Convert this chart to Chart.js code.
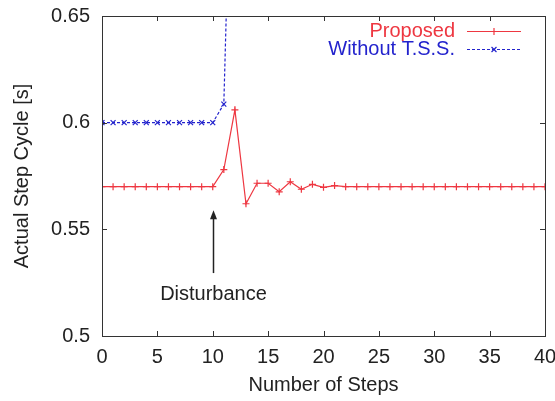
<!DOCTYPE html>
<html>
<head>
<meta charset="utf-8">
<script src="https://cdn.jsdelivr.net/npm/chart.js@4.4.1/dist/chart.umd.min.js"></script>
<style>
  html, body { margin: 0; padding: 0; background: #fff; }
  #wrap { width: 555px; height: 401px; }
</style>
</head>
<body>
<div id="wrap"><canvas id="stepChart" width="555" height="401"></canvas></div>
<script>
// data
const steps = [0, 1, 2, 3, 4, 5, 6, 7, 8, 9, 10, 11, 12, 13, 14, 15, 16, 17, 18, 19, 20,
               21, 22, 23, 24, 25, 26, 27, 28, 29, 30, 31, 32, 33, 34, 35, 36, 37, 38, 39, 40];
const proposed = [0.57, 0.57, 0.57, 0.57, 0.57, 0.57, 0.57, 0.57, 0.57, 0.57, 0.57,
                  0.578, 0.606, 0.562, 0.5716, 0.5716, 0.5676, 0.5723, 0.5688, 0.5711, 0.5697,
                  0.5705, 0.57, 0.57, 0.57, 0.57, 0.57, 0.57, 0.57, 0.57, 0.57,
                  0.57, 0.57, 0.57, 0.57, 0.57, 0.57, 0.57, 0.57, 0.57, 0.57];
const withoutTSS = [0.6, 0.6, 0.6, 0.6, 0.6, 0.6, 0.6, 0.6, 0.6, 0.6, 0.6, 0.6087, 0.8];
const xTicks = [0, 5, 10, 15, 20, 25, 30, 35, 40];
const yTicks = [0.5, 0.55, 0.6, 0.65];
const seriesNames = ['Proposed', 'Without T.S.S.'];

// arrow annotation
const disturbanceStep = 10;
const arrowFrom = 0.5295;
const arrowTo = 0.559;
const disturbanceLabelY = 0.5195;

const RED = 'rgb(238, 55, 65)';
const BLUE = 'rgb(35, 35, 205)';
const FONT = '"Liberation Sans", Arial, sans-serif';

function toPoints(ys) {
    return ys.map((v, i) => ({ x: steps[i], y: v }));
}

// box around plot with gnuplot style inward ticks on all four sides
const frame = {
    id: 'frame',
    afterDatasetsDraw(chart) {
        const { ctx, chartArea: a, scales } = chart;
        const t = 5;
        ctx.save();
        ctx.strokeStyle = '#333';
        ctx.lineWidth = 1;
        ctx.strokeRect(a.left + 0.5, a.top + 0.5, a.right - a.left, a.bottom - a.top);
        ctx.beginPath();
        xTicks.forEach(v => {
            const px = Math.round(scales.x.getPixelForValue(v)) + 0.5;
            ctx.moveTo(px, a.bottom); ctx.lineTo(px, a.bottom - t);
            ctx.moveTo(px, a.top); ctx.lineTo(px, a.top + t);
        });
        yTicks.forEach(v => {
            const py = Math.round(scales.y.getPixelForValue(v)) + 0.5;
            ctx.moveTo(a.left, py); ctx.lineTo(a.left + t, py);
            ctx.moveTo(a.right, py); ctx.lineTo(a.right - t, py);
        });
        ctx.stroke();

        // Disturbance arrow
        const ax = Math.round(scales.x.getPixelForValue(disturbanceStep)) + 0.5;
        const y0 = scales.y.getPixelForValue(arrowFrom);
        const y1 = scales.y.getPixelForValue(arrowTo);
        ctx.strokeStyle = '#222';
        ctx.fillStyle = '#222';
        ctx.lineWidth = 1.5;
        ctx.beginPath();
        ctx.moveTo(ax, y0); ctx.lineTo(ax, y1 + 4);
        ctx.stroke();
        ctx.beginPath();
        ctx.moveTo(ax, y1); ctx.lineTo(ax - 3.5, y1 + 9); ctx.lineTo(ax + 3.5, y1 + 9);
        ctx.closePath();
        ctx.fill();
        ctx.font = '20px ' + FONT;
        ctx.textAlign = 'center';
        ctx.textBaseline = 'middle';
        ctx.fillText('Disturbance', ax, scales.y.getPixelForValue(disturbanceLabelY));
        ctx.restore();
    }
};

// legend in the top right corner, text right aligned then the line sample
const keyBox = {
    id: 'keyBox',
    afterDraw(chart) {
        const { ctx } = chart;
        const textRight = 455, lx0 = 467, lx1 = 521;
        const rows = [
            { y: 31, color: RED, dash: [], style: 'cross' },
            { y: 49, color: BLUE, dash: [3, 2], style: 'crossRot' }
        ];
        ctx.save();
        ctx.font = '20px ' + FONT;
        ctx.textAlign = 'right';
        ctx.textBaseline = 'middle';
        rows.forEach((r, i) => {
            ctx.fillStyle = r.color;
            ctx.fillText(seriesNames[i], textRight, r.y);
            ctx.strokeStyle = r.color;
            ctx.lineWidth = 1.2;
            ctx.setLineDash(r.dash);
            ctx.beginPath();
            ctx.moveTo(lx0, r.y + 0.5); ctx.lineTo(lx1, r.y + 0.5);
            ctx.stroke();
            ctx.setLineDash([]);
            Chart.helpers.drawPoint(ctx, { pointStyle: r.style, radius: 3.5, borderWidth: 1.2 }, (lx0 + lx1) / 2, r.y + 0.5);
        });
        ctx.restore();
    }
};

const ctx = document.getElementById('stepChart').getContext('2d');
new Chart(ctx, {
    type: 'line',
    data: {
        datasets: [
            {
                label: seriesNames[0],
                data: toPoints(proposed),
                borderColor: RED,
                backgroundColor: RED,
                borderWidth: 1.2,
                pointStyle: 'cross',
                pointRadius: 3.5,
                pointBorderWidth: 1.2,
                tension: 0
            },
            {
                label: seriesNames[1],
                data: toPoints(withoutTSS),
                borderColor: BLUE,
                backgroundColor: BLUE,
                borderWidth: 1.2,
                borderDash: [3, 2],
                pointStyle: 'crossRot',
                pointRadius: 3.5,
                pointBorderWidth: 1.2,
                tension: 0
            }
        ]
    },
    options: {
        responsive: false,
        animation: false,
        layout: { padding: { top: 16, right: 10, left: 0, bottom: 0 } },
        plugins: {
            legend: { display: false },
            tooltip: { enabled: false }
        },
        scales: {
            x: {
                type: 'linear',
                min: 0,
                max: 40,
                grid: { display: false, drawTicks: false },
                border: { display: false },
                afterBuildTicks: s => { s.ticks = xTicks.map(v => ({ value: v })); },
                afterFit: s => { s.height = 65; s.paddingLeft = 0; s.paddingRight = 0; },
                ticks: { color: '#222', font: { size: 20, family: FONT }, padding: 9, maxRotation: 0 },
                title: {
                    display: true,
                    text: 'Number of Steps',
                    color: '#222',
                    font: { size: 20, family: FONT },
                    padding: { top: 0, bottom: 4 }
                }
            },
            y: {
                min: 0.5,
                max: 0.65,
                grid: { display: false, drawTicks: false },
                border: { display: false },
                afterBuildTicks: s => { s.ticks = yTicks.map(v => ({ value: v })); },
                afterFit: s => { s.width = 102; s.paddingTop = 0; s.paddingBottom = 0; },
                ticks: {
                    color: '#222',
                    font: { size: 20, family: FONT },
                    padding: 12,
                    callback: v => String(parseFloat(v.toFixed(2)))
                },
                title: {
                    display: true,
                    text: 'Actual Step Cycle [s]',
                    color: '#222',
                    font: { size: 20, family: FONT },
                    padding: { top: 10, bottom: 0 }
                }
            }
        }
    },
    plugins: [frame, keyBox]
});
</script>
</body>
</html>
